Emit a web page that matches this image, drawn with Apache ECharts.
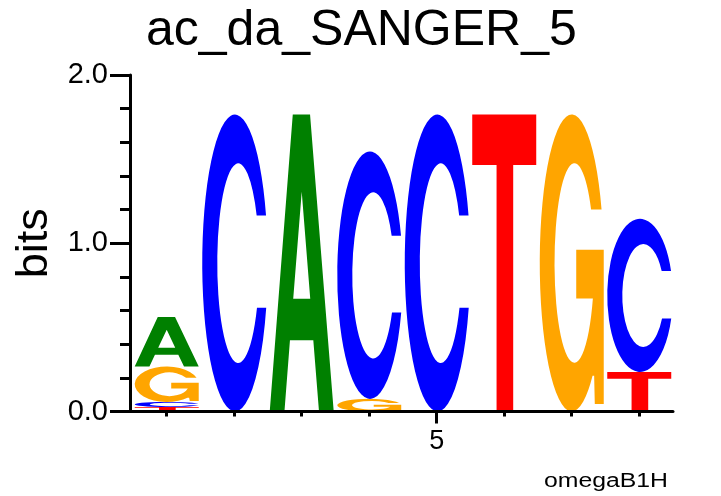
<!DOCTYPE html>
<html><head><meta charset="utf-8">
<script src="https://cdn.jsdelivr.net/npm/echarts@6/dist/echarts.min.js"></script>
<style>html,body{margin:0;padding:0;background:#fff}#c{width:721px;height:496px}</style>
</head><body><div id="c"></div>
<script>
// ---- data ----
const positions = [1, 2, 3, 4, 5, 6, 7, 8];
const bitsA = [0.295, 0, 1.765, 0, 0, 0, 0, 0];
const bitsC = [0.03, 1.765, 0, 1.47, 1.765, 0, 0, 0.91];
const bitsG = [0.21, 0, 0, 0.075, 0, 0, 1.765, 0];
const bitsT = [0.027, 0, 0, 0, 0, 1.765, 0, 0.235];
const yTickLabels = ['0.0', '1.0', '2.0'];
const xLabeled = [5];
const titleText = 'ac_da_SANGER_5';
const yName = 'bits';
const footer = 'omegaB1H';

// ---- styles ----
const colors = { A: '#008000', C: '#0000ff', G: '#ffa500', T: '#ff0000' };
const glyphs = {
  A: 'M0 100 L36 0 L63 0 L100 100 L77 100 L68.1 76 L31.6 76 L23 100 Z M36.7 62 L63.3 62 L50 26 Z',
  C: 'M97.4 34 A50 50 0 1 0 97.7 65 L83.6 65 A32 33.6 0 1 1 83.1 34 Z',
  G: 'M96.6 32 A50 50 0 1 0 82.5 88 L85 88 L86 97.5 L100 97.5 L100 45.6 L57 45.6 L57 62 L83 62 A31 33.6 0 1 1 80.2 32 Z',
  T: 'M0 0 L100 0 L100 17 L64 17 L64 100 L38 100 L38 17 L0 17 Z'
};
const FONT = 'Liberation Sans';
const X_MIN = 0.456, X_MAX = 8.5;

const chart = echarts.init(document.getElementById('c'), null, { renderer: 'canvas' });
const data = positions.map((p, i) => [p, bitsA[i] + bitsC[i] + bitsG[i] + bitsT[i]]);

chart.setOption({
  animation: false,
  backgroundColor: '#fff',
  title: {
    text: titleText, left: 141, top: 1,
    textStyle: { fontSize: 50, fontWeight: 'normal', fontFamily: FONT, color: '#000' }
  },
  graphic: [{
    type: 'text', x: 668, y: 481, scaleX: 1.24, scaleY: 1,
    style: { text: footer, fontSize: 20, fontFamily: FONT, fill: '#000', align: 'right', verticalAlign: 'middle' }
  }],
  grid: { left: 130, right: 48, top: 75, bottom: 84.5, containLabel: false, outerBoundsMode: 'none' },
  xAxis: [{
    type: 'value', min: X_MIN, max: X_MAX, position: 'bottom',
    axisLine: { show: true, lineStyle: { color: '#000', width: 3 } },
    axisTick: { show: true, inside: false, customValues: positions, length: 5, lineStyle: { color: '#000', width: 3 } },
    axisLabel: { show: false },
    splitLine: { show: false }
  }, {
    type: 'value', min: X_MIN, max: X_MAX, position: 'bottom',
    axisLine: { show: false },
    axisTick: { show: true, inside: false, customValues: xLabeled, length: 12, lineStyle: { color: '#000', width: 3 } },
    axisLabel: { show: true, inside: false, customValues: xLabeled, fontSize: 27, fontFamily: FONT, color: '#000', margin: 17 },
    splitLine: { show: false }
  }],
  yAxis: {
    type: 'value', min: 0, max: 2, interval: 1,
    axisLine: { show: true, lineStyle: { color: '#000', width: 3 } },
    axisTick: { show: true, inside: false, length: 20, lineStyle: { color: '#000', width: 3 } },
    minorTick: { show: true, splitNumber: 5, length: 10, lineStyle: { color: '#000', width: 3 } },
    splitLine: { show: false },
    axisLabel: { fontSize: 29, fontFamily: FONT, color: '#000', margin: 22,
      formatter: v => yTickLabels[Math.round(v)] },
    name: yName, nameLocation: 'middle', nameGap: 71,
    nameTextStyle: { fontSize: 45, fontFamily: FONT, color: '#000' }
  },
  series: [{
    type: 'custom', z: -1, xAxisIndex: 0,
    data: data,
    encode: { x: 0, y: 1 },
    renderItem: function (params, api) {
      const i = params.dataIndex;
      const x = api.value(0);
      const letters = [['A', bitsA[i]], ['C', bitsC[i]], ['G', bitsG[i]], ['T', bitsT[i]]]
        .filter(d => d[1] > 0).sort((a, b) => a[1] - b[1]);
      const halfW = 0.474;
      let base = 0;
      const children = [];
      letters.forEach(([L, h]) => {
        const p0 = api.coord([x - halfW, base + h]);
        const p1 = api.coord([x + halfW, base]);
        children.push({
          type: 'path',
          shape: { pathData: glyphs[L], x: p0[0], y: p0[1], width: p1[0] - p0[0], height: p1[1] - p0[1], layout: 'cover' },
          style: { fill: colors[L] }
        });
        base += h;
      });
      return { type: 'group', children: children };
    }
  }]
});
</script>
</body></html>
